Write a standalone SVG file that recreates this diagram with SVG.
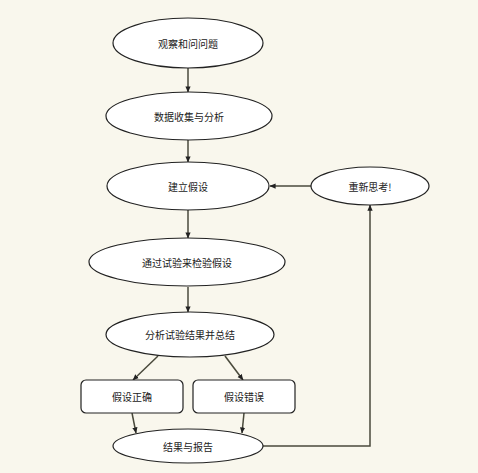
<svg xmlns="http://www.w3.org/2000/svg" width="478" height="473" viewBox="0 0 478 473">
  <style>
    .node { fill: #ffffff; stroke: #222222; stroke-width: 1.2; }
    .lbl { font-family: "Noto Sans CJK SC", "Liberation Sans", sans-serif; font-size: 10px; fill: #222222; text-anchor: middle; dominant-baseline: central; }
    .edge { fill: none; stroke: #4a4a3c; stroke-width: 1.5; marker-end: url(#arr); }
  </style>
  <defs>
    <marker id="arr" viewBox="0 0 8 8" refX="7.5" refY="4" markerWidth="6" markerHeight="6" markerUnits="userSpaceOnUse" orient="auto">
      <path d="M0,0.5 L8,4 L0,7.5 Z" fill="#222222"/>
    </marker>
  </defs>
  <rect width="478" height="473" fill="#f9f7ed"/>
  <g id="connectors">
    <line class="edge" x1="188" y1="67" x2="188" y2="92"/>
    <line class="edge" x1="188" y1="140" x2="188" y2="162"/>
    <line class="edge" x1="311" y1="186" x2="270" y2="186"/>
    <line class="edge" x1="188" y1="210" x2="188" y2="238"/>
    <line class="edge" x1="188" y1="287" x2="188" y2="312"/>
    <line class="edge" x1="158" y1="356" x2="133" y2="380"/>
    <line class="edge" x1="225" y1="356" x2="243" y2="380"/>
    <line class="edge" x1="132" y1="413" x2="136" y2="433"/>
    <line class="edge" x1="244" y1="413" x2="242" y2="433"/>
    <polyline class="edge" points="263,446 370,446 370,205"/>
  </g>
  <g id="n1">
    <ellipse class="node" cx="188" cy="43" rx="75" ry="25"/>
    <text class="lbl" x="188" y="43">观察和问问题</text>
  </g>
  <g id="n2">
    <ellipse class="node" cx="189" cy="116" rx="83" ry="24"/>
    <text class="lbl" x="189" y="116">数据收集与分析</text>
  </g>
  <g id="n3">
    <ellipse class="node" cx="188" cy="186" rx="81" ry="24"/>
    <text class="lbl" x="188" y="186">建立假设</text>
  </g>
  <g id="n4">
    <ellipse class="node" cx="370" cy="186" rx="59" ry="19"/>
    <text class="lbl" x="370" y="186">重新思考!</text>
  </g>
  <g id="n5">
    <ellipse class="node" cx="187" cy="262" rx="98" ry="24"/>
    <text class="lbl" x="187" y="262">通过试验来检验假设</text>
  </g>
  <g id="n6">
    <ellipse class="node" cx="190" cy="334.5" rx="84" ry="22.5"/>
    <text class="lbl" x="190" y="334.5">分析试验结果并总结</text>
  </g>
  <g id="n7">
    <rect class="node" x="81" y="380" width="102" height="33" rx="5"/>
    <text class="lbl" x="132" y="396.5">假设正确</text>
  </g>
  <g id="n8">
    <rect class="node" x="193" y="380" width="102" height="33" rx="5"/>
    <text class="lbl" x="244" y="396.5">假设错误</text>
  </g>
  <g id="n9">
    <ellipse class="node" cx="188" cy="446" rx="75" ry="17"/>
    <text class="lbl" x="188" y="446">结果与报告</text>
  </g>
</svg>
